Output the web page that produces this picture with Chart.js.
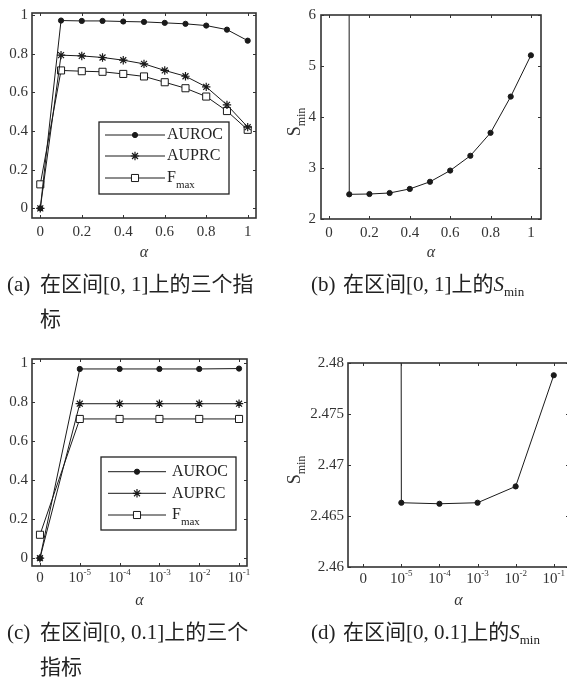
<!DOCTYPE html>
<html>
<head>
<meta charset="utf-8">
<script src="https://cdn.jsdelivr.net/npm/chart.js@4.4.0/dist/chart.umd.min.js"></script>
<style>
  body { margin: 0; width: 567px; height: 680px; overflow: hidden; background: #fff; position: relative;
         font-family: "Liberation Serif", "Noto Sans CJK SC", serif; color: #222; }
  canvas { position: absolute; }
  .tag { position: absolute; font-size: 21px; line-height: 35px; white-space: nowrap; }
  .cap { position: absolute; font-size: 21px; line-height: 35px; white-space: nowrap; }
  .cap i { font-style: italic; }
  .cap .sb { font-size: 13px; position: relative; top: 5px; }
  .ylab { position: absolute; font-size: 18px; white-space: nowrap; line-height: 20px;
          transform: translate(-50%, -50%) rotate(-90deg); color: #333; }
  .ylab .sb { font-size: 12px; position: relative; top: 5px; }
</style>
</head>
<body>
<canvas id="chartA" width="283" height="268" style="left:0;top:0"></canvas>
<canvas id="chartB" width="284" height="268" style="left:283px;top:0"></canvas>
<canvas id="chartC" width="283" height="276" style="left:0;top:340px"></canvas>
<canvas id="chartD" width="300" height="276" style="left:283px;top:340px"></canvas>

<div class="ylab" style="left:295px;top:122px">S<span class="sb">min</span></div>
<div class="ylab" style="left:295px;top:470px">S<span class="sb">min</span></div>

<div class="tag" style="left:7px;top:267px">(a)</div>
<div class="cap" style="left:40px;top:267px">在区间[0, 1]上的三个指<br>标</div>
<div class="tag" style="left:311px;top:267px">(b)</div>
<div class="cap" style="left:343px;top:267px">在区间[0, 1]上的<i>S</i><span class="sb">min</span></div>
<div class="tag" style="left:7px;top:615px">(c)</div>
<div class="cap" style="left:40px;top:615px">在区间[0, 0.1]上的三个<br>指标</div>
<div class="tag" style="left:311px;top:615px">(d)</div>
<div class="cap" style="left:343px;top:615px">在区间[0, 0.1]上的<i>S</i><span class="sb">min</span></div>

<script>
// (a)/(b): alpha on [0, 1]
const alphaA = [0, 0.1, 0.2, 0.3, 0.4, 0.5, 0.6, 0.7, 0.8, 0.9, 1];
const aurocA = [0, 0.971, 0.969, 0.969, 0.966, 0.964, 0.959, 0.954, 0.945, 0.924, 0.867];
const auprcA = [0, 0.792, 0.788, 0.780, 0.766, 0.747, 0.713, 0.683, 0.628, 0.535, 0.420];
const fmaxA  = [0.124, 0.713, 0.709, 0.706, 0.695, 0.682, 0.652, 0.621, 0.578, 0.503, 0.406];
const sminA  = [1000, 2.484, 2.49, 2.51, 2.59, 2.73, 2.95, 3.24, 3.69, 4.40, 5.21];

// (c)/(d): alpha on [0, 0.1], equally spaced categories
const alphaC = [0, 1, 2, 3, 4, 5];
const alphaCLabels = ['0', '10^-5', '10^-4', '10^-3', '10^-2', '10^-1'];
const aurocC = [0, 0.969, 0.969, 0.969, 0.969, 0.971];
const auprcC = [0, 0.791, 0.791, 0.791, 0.791, 0.791];
const fmaxC  = [0.12, 0.713, 0.713, 0.713, 0.713, 0.713];
const sminC  = [1000, 2.4663, 2.4662, 2.4663, 2.4679, 2.4788];

const ticksUnit = [0, 0.2, 0.4, 0.6, 0.8, 1];
const ticksSminA = [2, 3, 4, 5, 6];
const ticksSminC = [2.46, 2.465, 2.47, 2.475, 2.48];

const serif = '"Liberation Serif", "Times New Roman", serif';
const ink = '#1a1a1a';
const tickSize = 15;

function fmt(v) { return String(+v.toFixed(4)); }
function pts(xs, ys) { return xs.map((x, i) => ({ x: x, y: ys[i] })); }

// MATLAB style box with inward ticks on all four sides
const boxPlugin = {
  id: 'mbox',
  afterDatasetsDraw(chart) {
    const { ctx, chartArea: a, scales: { x, y } } = chart;
    ctx.save();
    ctx.strokeStyle = '#333';
    ctx.lineWidth = 1;
    ctx.beginPath();
    x.ticks.forEach(t => {
      const px = Math.round(x.getPixelForValue(t.value)) + 0.5;
      ctx.moveTo(px, a.bottom); ctx.lineTo(px, a.bottom - 3);
      ctx.moveTo(px, a.top); ctx.lineTo(px, a.top + 3);
    });
    y.ticks.forEach(t => {
      const py = Math.round(y.getPixelForValue(t.value)) + 0.5;
      ctx.moveTo(a.left, py); ctx.lineTo(a.left + 3, py);
      ctx.moveTo(a.right, py); ctx.lineTo(a.right - 3, py);
    });
    ctx.stroke();
    ctx.lineWidth = 1.6;
    ctx.strokeRect(a.left, a.top, a.right - a.left, a.bottom - a.top);
    ctx.restore();
  }
};

const legendPlugin = {
  id: 'mlegend',
  afterDraw(chart, args, opts) {
    if (!opts || !opts.rows) return;
    const { ctx, chartArea: a } = chart;
    const bx = a.left + opts.x, by = a.top + opts.y;
    ctx.save();
    ctx.fillStyle = '#fff';
    ctx.fillRect(bx, by, opts.w, opts.h);
    ctx.strokeStyle = '#222';
    ctx.lineWidth = 1.3;
    ctx.strokeRect(bx, by, opts.w, opts.h);
    chart.data.datasets.forEach((ds, i) => {
      const ry = by + opts.rows[i];
      ctx.strokeStyle = ds.borderColor;
      ctx.lineWidth = ds.borderWidth;
      ctx.beginPath();
      ctx.moveTo(bx + opts.line[0], ry);
      ctx.lineTo(bx + opts.line[1], ry);
      ctx.stroke();
      ctx.fillStyle = ds.pointBackgroundColor;
      ctx.strokeStyle = ds.pointBorderColor;
      ctx.lineWidth = ds.pointBorderWidth;
      Chart.helpers.drawPoint(ctx, { pointStyle: ds.pointStyle, radius: ds.pointRadius, borderWidth: ds.pointBorderWidth, rotation: 0 },
        bx + (opts.line[0] + opts.line[1]) / 2, ry);
      const parts = ds.label.split('_');
      ctx.fillStyle = '#222';
      ctx.textAlign = 'left';
      ctx.textBaseline = 'middle';
      ctx.font = '16px ' + serif;
      ctx.fillText(parts[0], bx + opts.text, ry);
      if (parts[1]) {
        const w = ctx.measureText(parts[0]).width;
        ctx.font = '11px ' + serif;
        ctx.fillText(parts[1], bx + opts.text + w, ry + 7);
      }
    });
    ctx.restore();
  }
};

// tick labels like 10^-5 with a raised exponent
const powLabelPlugin = {
  id: 'powLabels',
  afterDraw(chart, args, opts) {
    if (!opts || !opts.labels) return;
    const { ctx, chartArea: a, scales: { x } } = chart;
    ctx.save();
    ctx.fillStyle = '#333';
    ctx.textBaseline = 'middle';
    ctx.textAlign = 'left';
    x.ticks.forEach(t => {
      const lab = opts.labels[t.value];
      const parts = lab.split('^');
      const px = x.getPixelForValue(t.value), py = a.bottom + opts.dy;
      ctx.font = tickSize + 'px ' + serif;
      const bw = ctx.measureText(parts[0]).width;
      let ew = 0;
      if (parts[1]) { ctx.font = '9px ' + serif; ew = ctx.measureText(parts[1]).width; }
      const x0 = px - (bw + ew) / 2;
      ctx.font = tickSize + 'px ' + serif;
      ctx.fillText(parts[0], x0, py);
      if (parts[1]) { ctx.font = '9px ' + serif; ctx.fillText(parts[1], x0 + bw, py - 5); }
    });
    ctx.restore();
  }
};

Chart.register(boxPlugin, legendPlugin, powLabelPlugin);

const styleAuroc = { pointStyle: 'circle', pointRadius: 2.6, pointBackgroundColor: ink, pointBorderColor: ink, pointBorderWidth: 1 };
const styleAuprc = { pointStyle: 'star', pointRadius: 4.2, pointBackgroundColor: ink, pointBorderColor: ink, pointBorderWidth: 1.2 };
const styleFmax  = { pointStyle: 'rect', pointRadius: 5, pointBackgroundColor: '#fff', pointBorderColor: ink, pointBorderWidth: 1 };

function lineSet(label, data, style, extra) {
  return Object.assign({ label: label, data: data, borderColor: ink, borderWidth: 1, tension: 0,
    fill: false, pointHoverRadius: 0 }, style, extra || {});
}

function makeOptions(o) {
  return {
    responsive: false,
    animation: false,
    devicePixelRatio: 1,
    events: [],
    layout: { padding: o.padding },
    plugins: {
      legend: { display: false },
      tooltip: { enabled: false },
      mlegend: o.legend || {},
      powLabels: o.pow || {}
    },
    scales: {
      x: {
        type: 'linear', min: o.xMin, max: o.xMax,
        grid: { display: false, drawTicks: false },
        border: { display: false },
        afterBuildTicks: s => { s.ticks = o.xTicks.map(v => ({ value: v })); },
        afterFit: s => { s.height = o.xHeight; },
        ticks: { display: !o.pow, padding: 5, color: '#333', font: { family: serif, size: tickSize }, callback: v => fmt(v) },
        title: { display: true, text: 'α', color: '#333', font: { family: serif, size: 16, style: 'italic' },
                 padding: { top: 0, bottom: o.titlePad } }
      },
      y: {
        type: 'linear', min: o.yMin, max: o.yMax,
        grid: { display: false, drawTicks: false },
        border: { display: false },
        afterBuildTicks: s => { s.ticks = o.yTicks.map(v => ({ value: v })); },
        afterFit: s => { s.width = o.yWidth; },
        ticks: { padding: o.yPad, color: '#333', font: { family: serif, size: tickSize }, callback: v => fmt(v) }
      }
    }
  };
}

new Chart(document.getElementById('chartA'), {
  type: 'line',
  data: { datasets: [
    lineSet('AUROC', pts(alphaA, aurocA), styleAuroc),
    lineSet('AUPRC', pts(alphaA, auprcA), styleAuprc),
    lineSet('F_max', pts(alphaA, fmaxA), styleFmax)
  ] },
  options: makeOptions({
    padding: { left: 0, top: 13, right: 27, bottom: 0 },
    xMin: -0.04, xMax: 1.04, xTicks: ticksUnit, xHeight: 50, titlePad: 6,
    yMin: -0.05, yMax: 1.01, yTicks: ticksUnit, yWidth: 32, yPad: 4,
    legend: { x: 67, y: 109, w: 130, h: 72, rows: [13, 34, 56], line: [6, 66], text: 68 }
  })
});

new Chart(document.getElementById('chartB'), {
  type: 'line',
  data: { datasets: [
    lineSet('S_min', pts(alphaA, sminA), styleAuroc, { clip: 0 })
  ] },
  options: makeOptions({
    padding: { left: 0, top: 15, right: 26, bottom: 0 },
    xMin: -0.04, xMax: 1.05, xTicks: ticksUnit, xHeight: 49, titlePad: 6,
    yMin: 2, yMax: 6, yTicks: ticksSminA, yWidth: 38, yPad: 5
  })
});

new Chart(document.getElementById('chartC'), {
  type: 'line',
  data: { datasets: [
    lineSet('AUROC', pts(alphaC, aurocC), styleAuroc),
    lineSet('AUPRC', pts(alphaC, auprcC), styleAuprc),
    lineSet('F_max', pts(alphaC, fmaxC), styleFmax)
  ] },
  options: makeOptions({
    padding: { left: 0, top: 19, right: 36, bottom: 0 },
    xMin: -0.2, xMax: 5.2, xTicks: alphaC, xHeight: 50, titlePad: 6,
    yMin: -0.04, yMax: 1.02, yTicks: ticksUnit, yWidth: 32, yPad: 4,
    legend: { x: 69, y: 98, w: 135, h: 73, rows: [14.7, 36.3, 58], line: [7, 65], text: 71 },
    pow: { labels: alphaCLabels, dy: 12 }
  })
});

new Chart(document.getElementById('chartD'), {
  type: 'line',
  data: { datasets: [
    lineSet('S_min', pts(alphaC, sminC), styleAuroc, { clip: 0 })
  ] },
  options: makeOptions({
    padding: { left: 0, top: 23, right: 14, bottom: 0 },
    xMin: -0.4, xMax: 5.4, xTicks: alphaC, xHeight: 49, titlePad: 6,
    yMin: 2.46, yMax: 2.48, yTicks: ticksSminC, yWidth: 65, yPad: 4,
    pow: { labels: alphaCLabels, dy: 12 }
  })
});
</script>
</body>
</html>
